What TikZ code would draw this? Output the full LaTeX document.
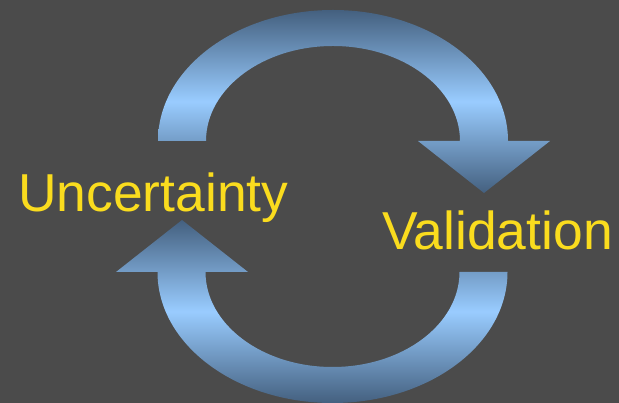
\documentclass[tikz,border=0pt]{standalone}
\usepackage{fontspec}
\setmainfont{Liberation Sans}
\definecolor{bgcol}{HTML}{4B4B4B}
\definecolor{arrdark}{HTML}{44607F}
\definecolor{arrlight}{HTML}{99CCFF}
\definecolor{txtcol}{HTML}{FADC1E}
\tikzset{
  cyclearrow/.style={top color=arrdark, bottom color=arrdark, middle color=arrlight, draw=none},
  label/.style={text=txtcol, inner sep=0pt, anchor=base west, font=\fontsize{53.4}{60}\selectfont}
}
\begin{document}
\begin{tikzpicture}[x=1pt,y=1pt]
  \fill[bgcol] (0,0) rectangle (619,403);
  \useasboundingbox (0,0) rectangle (619,403);
  % top arrow (left -> over -> right, pointing down)
  \shade[cyclearrow]
    (158,262) arc[start angle=180, end angle=0, x radius=175, y radius=131]
    -- (550,262) -- (484,210) -- (418,262) -- (460,262)
    arc[start angle=0, end angle=180, x radius=127, y radius=95]
    -- cycle;
  % bottom arrow (right -> under -> left, pointing up)
  \shade[cyclearrow]
    (507.5,131) arc[start angle=0, end angle=-180, x radius=175, y radius=131]
    -- (116,131) -- (182,183) -- (248,131) -- (205.5,131)
    arc[start angle=180, end angle=360, x radius=127, y radius=95]
    -- cycle;
  \node[label] (unc) at (18,191) {Uncertainty};
  \node[label] (val) at (382,153) {Validation};
\end{tikzpicture}
\end{document}
